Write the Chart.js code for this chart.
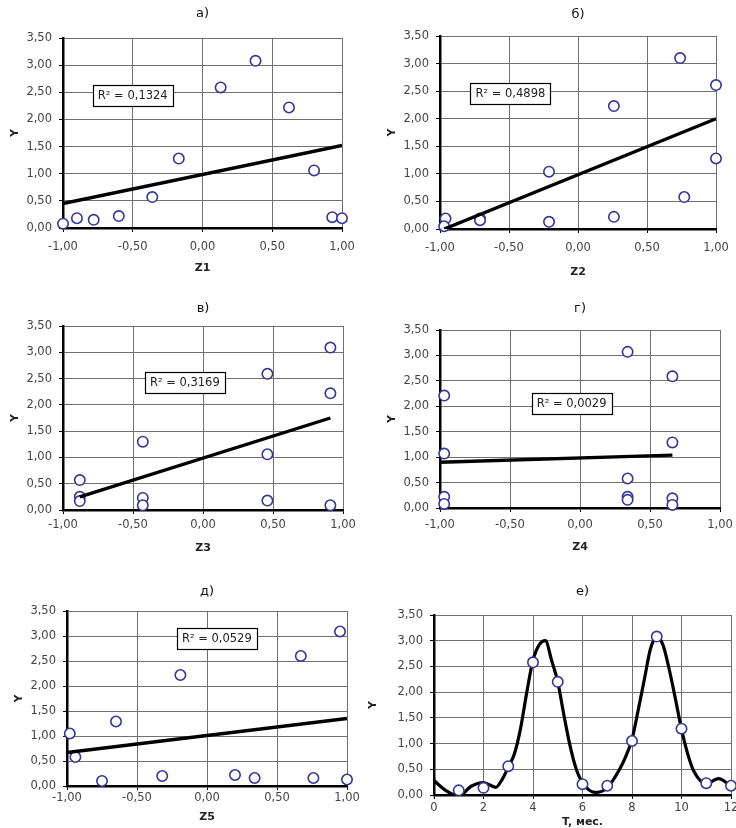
<!DOCTYPE html>
<html lang="ru">
<head>
<meta charset="UTF-8">
<title>Y и факторы Z1–Z5</title>
<script src="https://cdn.jsdelivr.net/npm/chart.js"></script>
<style>
  html, body { margin: 0; padding: 0; background: #fff; overflow: hidden; }
  body { width: 736px; height: 828px; position: relative; }
  canvas { position: absolute; }
</style>
</head>
<body>
<canvas id="pa"></canvas>
<canvas id="pb"></canvas>
<canvas id="pc"></canvas>
<canvas id="pd"></canvas>
<canvas id="pe"></canvas>
<canvas id="pf"></canvas>

<script>
// --- data ---------------------------------------------------------------
// Y against the harmonic factors Z1..Z5
const z1 = [-1.00, -0.90, -0.78, -0.60, -0.36, -0.17, 0.13, 0.38, 0.62, 0.80, 0.93, 1.00];
const y1 = [0.08, 0.18, 0.15, 0.22, 0.57, 1.28, 2.59, 3.08, 2.22, 1.06, 0.20, 0.18];

const z2 = [-0.96, -0.97, -0.71, -0.71, -0.21, -0.21, 0.26, 0.26, 0.74, 0.77, 1.00, 1.00];
const y2 = [0.19, 0.05, 0.19, 0.16, 1.04, 0.13, 2.23, 0.22, 3.10, 0.58, 2.61, 1.28];

const z3 = [-0.88, -0.88, -0.88, -0.43, -0.43, -0.43, 0.46, 0.46, 0.46, 0.91, 0.91, 0.91];
const y3 = [0.57, 0.25, 0.17, 1.30, 0.23, 0.09, 2.59, 1.06, 0.18, 3.09, 2.22, 0.09];

const z4 = [-0.97, -0.97, -0.97, -0.97, 0.34, 0.34, 0.34, 0.34, 0.66, 0.66, 0.66, 0.66];
const y4 = [2.21, 1.07, 0.22, 0.08, 3.07, 0.58, 0.22, 0.16, 2.59, 1.29, 0.19, 0.06];

const z5 = [-0.98, -0.94, -0.75, -0.65, -0.32, -0.19, 0.20, 0.34, 0.67, 0.76, 0.95, 1.00];
const y5 = [1.05, 0.58, 0.10, 1.29, 0.20, 2.22, 0.22, 0.16, 2.60, 0.16, 3.09, 0.13];

// linear trend lines, [x, y] at both ends
const trend1 = [[-1.00, 0.45], [1.00, 1.52]];
const trend2 = [[-0.97, 0.00], [1.00, 2.00]];
const trend3 = [[-0.88, 0.25], [0.91, 1.75]];
const trend4 = [[-1.00, 0.90], [0.66, 1.04]];
const trend5 = [[-1.00, 0.67], [1.00, 1.35]];

const r2Values = ['0,1324', '0,4898', '0,3169', '0,0029', '0,0529'];

// monthly Y and the fitted periodic curve
const months = [1, 2, 3, 4, 5, 6, 7, 8, 9, 10, 11, 12];
const yMonth = [0.09, 0.14, 0.56, 2.58, 2.20, 0.21, 0.18, 1.05, 3.08, 1.29, 0.23, 0.18];
const curveT = [0, 0.5, 1, 1.5, 2, 2.5, 2.75, 3, 3.25, 3.5, 3.75, 4, 4.25, 4.5, 4.75, 5, 5.25, 5.5, 5.75,
                6, 6.5, 7, 7.5, 7.75, 8, 8.25, 8.5, 8.75, 9, 9.25, 9.5, 9.75, 10, 10.25, 10.5, 11, 11.5, 12];
const curveY = [0.28, 0.08, -0.02, 0.17, 0.24, 0.15, 0.30, 0.54, 0.80, 1.30, 2.00, 2.62, 2.92, 3.00, 2.62,
                2.20, 1.55, 0.95, 0.50, 0.24, 0.05, 0.14, 0.50, 0.75, 1.08, 1.65, 2.25, 2.85, 3.06, 2.92,
                2.45, 1.88, 1.28, 0.80, 0.46, 0.22, 0.32, 0.17];

// --- helpers --------------------------------------------------------------
Chart.defaults.font.family = '"DejaVu Sans", sans-serif';
Chart.defaults.color = '#333';
Chart.defaults.animation = false;

const pts = (xs, ys) => xs.map((x, i) => ({ x: x, y: ys[i] }));
const comma = (v, d) => v.toFixed(d).replace('.', ',');

// panel title above the plot and the R² box
const panelText = {
  id: 'panelText',
  afterDatasetsDraw(chart, args, o) {
    const { ctx, chartArea, scales } = chart;
    ctx.save();
    ctx.textAlign = 'center';
    ctx.textBaseline = 'middle';
    ctx.font = '13px "DejaVu Sans"';
    ctx.fillStyle = '#111';
    ctx.fillText(o.title, (chartArea.left + chartArea.right) / 2, o.titleY);
    if (o.r2) {
      const cx = scales.x.getPixelForValue(o.r2At[0]);
      const cy = scales.y.getPixelForValue(o.r2At[1]);
      const txt = 'R² = ' + o.r2;
      ctx.font = '11.5px "DejaVu Sans"';
      const w = Math.round(ctx.measureText(txt).width + 10), h = 21;
      const bx = Math.round(cx - w / 2) + 0.5, by = Math.round(cy - h / 2) + 0.5;
      ctx.fillStyle = '#fff';
      ctx.fillRect(bx, by, w, h);
      ctx.strokeStyle = '#000';
      ctx.lineWidth = 1.2;
      ctx.strokeRect(bx, by, w, h);
      ctx.fillStyle = '#222';
      ctx.fillText(txt, cx, cy + 0.5);
    }
    ctx.restore();
  }
};

// page geometry of each plot area: L, T, R, B in px
const panels = [
  { id: 'pa', title: 'а)', xTitle: 'Z1', L: 63,  T: 38,  R: 342, B: 228, titleY: 14,  tp: 8, bh: 48, pb: 1.4, yW: 63, yPad: 8.4,
    xs: z1, ys: y1, trend: trend1, r2: r2Values[0], r2At: [-0.50, 2.44] },
  { id: 'pb', title: 'б)', xTitle: 'Z2', L: 440, T: 36,  R: 716, B: 229, titleY: 15,  tp: 8, bh: 50, pb: 0.4, yW: 63, yPad: 8.4,
    xs: z2, ys: y2, trend: trend2, r2: r2Values[1], r2At: [-0.49, 2.46] },
  { id: 'pc', title: 'в)', xTitle: 'Z3', L: 63,  T: 326, R: 343, B: 510, titleY: 309, tp: 4, bh: 46, pb: 1.4, yW: 63, yPad: 8.4,
    xs: z3, ys: y3, trend: trend3, r2: r2Values[2], r2At: [-0.13, 2.42] },
  { id: 'pd', title: 'г)', xTitle: 'Z4', L: 440, T: 330, R: 720, B: 508, titleY: 309, tp: 6, bh: 47, pb: 1.4, yW: 63, yPad: 8.4,
    xs: z4, ys: y4, trend: trend4, r2: r2Values[3], r2At: [-0.06, 2.05] },
  { id: 'pe', title: 'д)', xTitle: 'Z5', L: 67,  T: 611, R: 347, B: 786, titleY: 592, tp: 1, bh: 40, pb: 2.4, yW: 63, yPad: 8.4,
    xs: z5, ys: y5, trend: trend5, r2: r2Values[4], r2At: [0.07, 2.95] },
  { id: 'pf', title: 'е)', xTitle: 'T, мес.', L: 434, T: 615, R: 731, B: 795, titleY: 592, tp: 2, bh: 34, pb: 0.4, yW: 68, yPad: 0.4,
    xs: months, ys: yMonth, curve: true }
];

function buildScales(p) {
  const xMin = p.curve ? 0 : -1, xMax = p.curve ? 12 : 1, xStep = p.curve ? 2 : 0.5;
  return {
    x: {
      type: 'linear', min: xMin, max: xMax,
      ticks: { stepSize: xStep, padding: p.tp, color: '#444', font: { size: 11.5 }, maxRotation: 0, autoSkip: false,
               callback: v => p.curve ? String(v) : comma(v, 2) },
      grid: { color: '#707070', lineWidth: 1, tickLength: 4, tickColor: '#000' },
      border: { color: '#000', width: 2.5 },
      title: { display: true, text: p.xTitle, color: '#222', font: { size: 11, weight: 'bold' }, padding: { top: 0, bottom: p.pb } },
      afterFit: s => { s.height = p.bh; }
    },
    y: {
      type: 'linear', min: 0, max: 3.5,
      ticks: { stepSize: 0.5, padding: 7, color: '#444', font: { size: 11.5 }, callback: v => comma(v, 2) },
      grid: { color: '#707070', lineWidth: 1, tickLength: 4, tickColor: '#000' },
      border: { color: '#000', width: 2.5 },
      title: { display: true, text: 'Y', color: '#222', font: { size: 11, weight: 'bold' }, padding: { top: p.yPad, bottom: 0 } },
      afterFit: s => { s.width = p.yW; }
    }
  };
}

const markers = {
  type: 'scatter',
  pointStyle: 'circle', pointRadius: 5.2, pointBorderWidth: 1.6,
  pointBorderColor: '#35359a', pointBackgroundColor: '#fff',
  showLine: false, clip: false
};

panels.forEach(p => {
  const padTop = 32, padRight = 26;
  const el = document.getElementById(p.id);
  el.width = p.R - p.L + p.yW + padRight;
  el.height = p.B - p.T + padTop + p.bh;
  el.style.left = (p.L - p.yW) + 'px';
  el.style.top = (p.T - padTop) + 'px';

  const datasets = [];
  if (p.curve) {
    datasets.push({ ...markers, data: pts(p.xs, p.ys), order: 0 });
    datasets.push({ type: 'line', data: pts(curveT, curveY), borderColor: '#000', borderWidth: 3.2,
                    pointRadius: 0, cubicInterpolationMode: 'monotone', fill: false, order: 1 });
  } else {
    datasets.push({ type: 'line', data: p.trend.map(t => ({ x: t[0], y: t[1] })), borderColor: '#000',
                    borderWidth: 3.4, pointRadius: 0, fill: false, order: 0 });
    datasets.push({ ...markers, data: pts(p.xs, p.ys), order: 1 });
  }

  new Chart(el, {
    type: 'scatter',
    data: { datasets: datasets },
    options: {
      responsive: false,
      devicePixelRatio: 1,
      layout: { padding: { top: padTop, right: padRight, left: 0, bottom: 0 } },
      scales: buildScales(p),
      plugins: {
        legend: { display: false },
        tooltip: { enabled: false },
        panelText: { title: p.title, titleY: p.titleY - (p.T - padTop), r2: p.r2, r2At: p.r2At }
      }
    },
    plugins: [panelText]
  });
});
</script>
</body>
</html>
